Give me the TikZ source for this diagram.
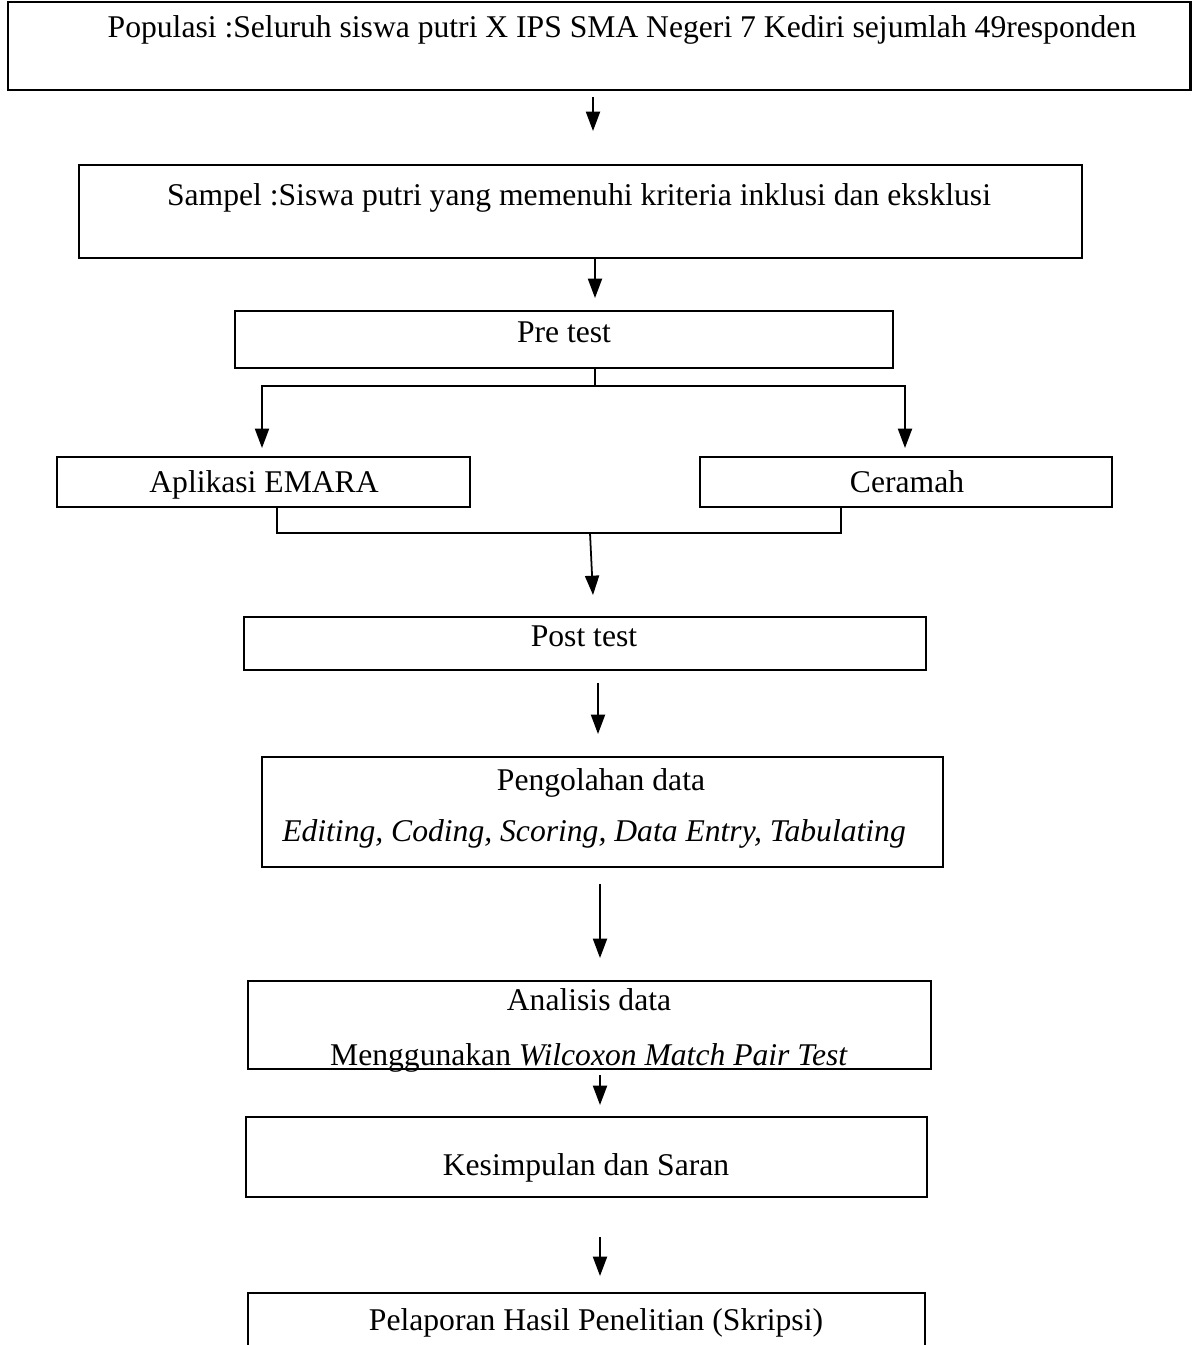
\documentclass[tikz,border=0pt]{standalone}
\usepackage{fontspec}
\setmainfont{Liberation Serif}
\usetikzlibrary{arrows.meta,fit}
\tikzset{
  kotak/.style={draw,line width=1.1pt,inner sep=0pt},
  teks/.style={anchor=base,inner sep=0pt,font=\fontsize{18}{21}\selectfont},
  panah/.style={line width=1pt,-{Triangle[length=11pt,width=8pt]}},
  garis/.style={line width=1pt}
}
\begin{document}
\begin{tikzpicture}
    [x=0.02cm,y=-0.02cm]
    \useasboundingbox (0,0) rectangle (1200,1345);
    \clip (0,0) rectangle (1200,1345);
    %boxes
    \node[kotak,line width=1.7pt,fit={(8,2) (1190,90)}] (pop) {};
    \node[kotak,fit={(79,165) (1082,258)}] (sam) {};
    \node[kotak,fit={(235,311) (893,368)}] (pre) {};
    \node[kotak,fit={(57,457) (470,507)}] (emara) {};
    \node[kotak,fit={(700,457) (1112,507)}] (cer) {};
    \node[kotak,fit={(244,617) (926,670)}] (post) {};
    \node[kotak,fit={(262,757) (943,867)}] (olah) {};
    \node[kotak,fit={(248,981) (931,1069)}] (anal) {};
    \node[kotak,fit={(246,1117) (927,1197)}] (simp) {};
    \node[kotak,fit={(248,1293) (925,1370)}] (lapor) {};
    %texts
    \node[teks] (popt) at (622,38) {Populasi :Seluruh siswa putri X IPS SMA Negeri 7 Kediri sejumlah 49responden};
    \node[teks] (samt) at (579,205) {Sampel :Siswa putri yang memenuhi kriteria inklusi dan eksklusi};
    \node[teks] (pret) at (564,342) {Pre test};
    \node[teks] (emarat) at (264,492) {Aplikasi EMARA};
    \node[teks] (cert) at (907,492) {Ceramah};
    \node[teks] (postt) at (584,646) {Post test};
    \node[teks] (olaht) at (601,790) {Pengolahan data};
    \node[teks] (olaht2) at (594,841) {\itshape Editing, Coding, Scoring, Data Entry, Tabulating};
    \node[teks] (analt) at (589,1010) {Analisis data};
    \node[teks] (analt2) at (589,1065) {Menggunakan \textit{Wilcoxon Match Pair Test}};
    \node[teks] (simpt) at (586,1175) {Kesimpulan dan Saran};
    \node[teks] (laport) at (596,1330) {Pelaporan Hasil Penelitian (Skripsi)};
    %arrow ends
    \coordinate (a1) at (593,97);   \coordinate (b1) at (593,131);
    \coordinate (a2) at (595,258);  \coordinate (b2) at (595,298);
    \coordinate (cab) at (595,386);
    \coordinate (kiri) at (262,448); \coordinate (kanan) at (905,448);
    \coordinate (gab) at (590,533);
    \coordinate (ekiri) at (277,533); \coordinate (ekanan) at (841,533);
    \coordinate (b3) at (593,595);
    \coordinate (a4) at (598,683);  \coordinate (b4) at (598,734);
    \coordinate (a5) at (600,884);  \coordinate (b5) at (600,958);
    \coordinate (a6) at (600,1075); \coordinate (b6) at (600,1105);
    \coordinate (a7) at (600,1237); \coordinate (b7) at (600,1276);
    %arrows
    \draw[panah] (a1)--(b1);
    \draw[panah] (a2)--(b2);
    \draw[garis] (pre.south -| cab)--(cab);
    \draw[panah] (cab)-|(kiri);
    \draw[panah] (cab)-|(kanan);
    \draw[garis] (emarat |- emara.south) ++(13,0) coordinate (eks)
      (eks)--(ekiri)--(ekanan)--(cer.south -| ekanan);
    \draw[panah] (gab)--(b3);
    \draw[panah] (a4)--(b4);
    \draw[panah] (a5)--(b5);
    \draw[panah] (a6)--(b6);
    \draw[panah] (a7)--(b7);
\end{tikzpicture}
\end{document}
